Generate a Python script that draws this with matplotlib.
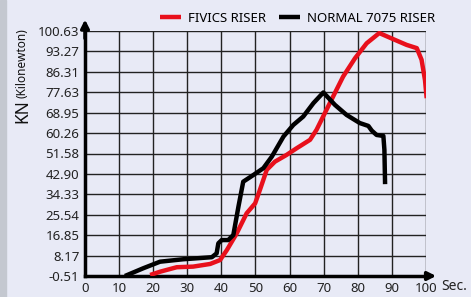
import numpy as np
import matplotlib.pyplot as plt
from matplotlib.patches import Rectangle

# y axis ticks (unevenly spaced values, drawn evenly)
y_ticks = [-0.51, 8.17, 16.85, 25.54, 34.33, 42.90, 51.58, 60.26, 68.95, 77.63, 86.31, 93.27, 100.63]
x_ticks = [0, 10, 20, 30, 40, 50, 60, 70, 80, 90, 100]

# FIVICS RISER (sec, kN)
fivics_t = [19.1, 22.0, 26.9, 31.7, 36.7, 39.6, 41.6, 44.5, 47.4, 49.9, 51.3, 53.3, 55.7, 59.1,
            62.1, 66.0, 67.9, 71.8, 75.7, 79.2, 82.6, 86.3, 90.4, 94.3, 97.3, 98.7, 99.7, 100.2]
fivics_kn = [-0.08, 1.31, 3.22, 3.48, 4.61, 6.26, 10.51, 17.63, 26.16, 30.46, 36.22, 44.64, 48.11, 50.97,
             53.84, 57.40, 61.65, 73.03, 84.31, 90.97, 96.21, 99.89, 97.69, 95.63, 94.45, 90.42, 82.84, 75.11]

# NORMAL 7075 RISER (sec, kN)
normal_t = [11.7, 17.1, 22.0, 28.8, 37.2, 38.6, 39.1, 40.1, 42.0, 43.5, 45.0, 46.4, 49.4, 52.3, 54.8,
            58.2, 61.1, 64.0, 67.0, 69.9, 73.3, 76.7, 80.6, 83.1, 84.1, 85.5, 87.5, 87.8, 88.0]
normal_kn = [-0.51, 2.79, 5.57, 6.61, 7.48, 9.12, 13.38, 14.77, 14.77, 16.94, 29.06, 39.64, 42.47, 45.33, 50.28,
             58.78, 63.74, 67.30, 73.03, 77.54, 72.25, 68.00, 64.52, 63.30, 61.30, 59.47, 59.04, 53.14, 38.60]

bg = '#e8eaf6'
idx = np.arange(len(y_ticks))


def to_grid(v):
    return np.interp(v, y_ticks, idx)


fig = plt.figure(figsize=(4.71, 2.97), dpi=100, facecolor=bg)
plt.rcParams['font.family'] = ['Noto Sans', 'DejaVu Sans']
ax = fig.add_axes([85 / 471, 1 - 276 / 297, 341 / 471, 245 / 297])
ax.set_facecolor(bg)

# left grey strip
fig.patches.append(Rectangle((0, 0), 6 / 471, 1, transform=fig.transFigure,
                             color='#c4c8d0', zorder=0))

ax.set_xlim(0, 100)
ax.set_ylim(0, len(y_ticks) - 1)
for x in x_ticks[1:]:
    ax.axvline(x, color='#222222', lw=1.0, zorder=1)
for i in idx[1:]:
    ax.axhline(i, color='#222222', lw=1.0, zorder=1)

for s in ['top', 'right']:
    ax.spines[s].set_visible(False)
for s in ['left', 'bottom']:
    ax.spines[s].set_linewidth(2.5)
    ax.spines[s].set_color('black')

ax.plot(fivics_t, to_grid(fivics_kn), color='#e8101c', lw=3.2, zorder=3,
        solid_capstyle='butt', label='FIVICS RISER')
ax.plot(normal_t, to_grid(normal_kn), color='black', lw=3.2, zorder=3,
        solid_capstyle='butt', label='NORMAL 7075 RISER')

# arrows on axes
ax.annotate('', xy=(103.8, 0), xytext=(99, 0),
            arrowprops=dict(arrowstyle='-|>', color='black', lw=2.5, mutation_scale=12),
            annotation_clip=False)
ax.annotate('', xy=(0, 12.7), xytext=(0, 11.5),
            arrowprops=dict(arrowstyle='-|>', color='black', lw=2.5, mutation_scale=12),
            annotation_clip=False)

ax.set_xticks(x_ticks)
ax.set_xticklabels([str(t) for t in x_ticks])
ax.set_yticks(idx)
ax.set_yticklabels(['%.2f' % v for v in y_ticks])
ax.tick_params(length=0, labelsize=9.5, colors='#222222', pad=4)
ax.text(104.5, -0.53, 'Sec.', fontsize=10, color='#222222', ha='left', va='center',
        transform=ax.transData, clip_on=False)

fig.text(22 / 471, 1 - 111 / 297, 'KN', rotation=90, fontsize=12.5, fontweight='bold',
         ha='center', va='center', color='#111111')
fig.text(22 / 471, 1 - 63 / 297, '(Kilonewton)', rotation=90, fontsize=8.5,
         ha='center', va='center', color='#111111')

ax.legend(loc='lower left', bbox_to_anchor=(160 / 471, 1 - 25 / 297), bbox_transform=fig.transFigure,
          ncol=2, frameon=False, fontsize=9.5, handlelength=1.6, handletextpad=0.5,
          columnspacing=1.0, borderpad=0, borderaxespad=0)

fig.savefig('out.png', dpi=100, facecolor=bg)
